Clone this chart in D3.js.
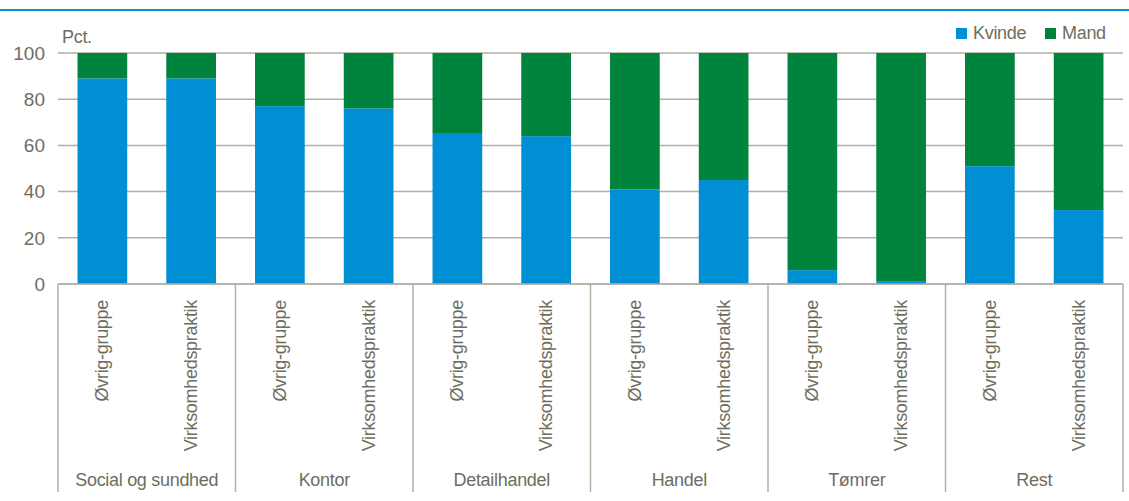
<!DOCTYPE html>
<html><head><meta charset="utf-8">
<script src="https://cdn.jsdelivr.net/npm/d3@7"></script>
<style>body{margin:0;background:#fff}svg{display:block}text{font-family:"Liberation Sans",Arial,sans-serif;fill:#6e6e60;letter-spacing:-0.3px}</style>
</head><body><svg id="c" width="1129" height="501"></svg>
<script>
const groups = ["Social og sundhed","Kontor","Detailhandel","Handel","Tømrer","Rest"];
const subs = ["Øvrig-gruppe","Virksomhedspraktik"];
const kvinde = [[89,89],[77,76],[65,64],[41,45],[6,1],[51,32]];
const mand = kvinde.map(g => g.map(v => 100 - v));
const yTicks = [0,20,40,60,80,100];
const series = ["Kvinde","Mand"];
const colors = ["#008fd5","#00843d"];

const svg = d3.select("#c");
const L = 58, R = 1123, T = 53, B = 284, bottom = 492;
svg.append("rect").attr("x",0).attr("y",9).attr("width",1129).attr("height",2).attr("fill","#0090d8");

const x0 = d3.scaleBand().domain(groups).range([L,R]).padding(0);
const x1 = d3.scaleBand().domain(subs).range([0,x0.bandwidth()]).paddingInner(0.44).paddingOuter(0.22);
const y = d3.scaleLinear().domain([0,100]).range([B,T]);

// gridlines
svg.append("g").selectAll("line").data(yTicks).join("line")
  .attr("x1",L).attr("x2",R).attr("y1",d=>y(d)).attr("y2",d=>y(d))
  .attr("stroke","#b2b0a2").attr("stroke-width",1.5);
// y tick labels
svg.append("g").selectAll("text").data(yTicks).join("text")
  .attr("x",45).attr("y",d=>y(d)).attr("dy","0.36em").attr("text-anchor","end")
  .attr("font-size",19).style("letter-spacing","0px").text(d=>d);
svg.append("text").attr("x",62).attr("y",43).attr("font-size",18).text("Pct.");

// bars
const data = [];
groups.forEach((g,gi)=>subs.forEach((s,si)=>{
  data.push({g,s,k:kvinde[gi][si],m:mand[gi][si]});
}));
const bars = svg.append("g");
bars.selectAll("rect.k").data(data).join("rect").attr("class","k")
  .attr("x",d=>x0(d.g)+x1(d.s)).attr("width",x1.bandwidth())
  .attr("y",d=>y(d.k)).attr("height",d=>y(0)-y(d.k)).attr("fill",colors[0]);
bars.selectAll("rect.m").data(data).join("rect").attr("class","m")
  .attr("x",d=>x0(d.g)+x1(d.s)).attr("width",x1.bandwidth())
  .attr("y",d=>y(d.k+d.m)).attr("height",d=>y(d.k)-y(d.k+d.m)).attr("fill",colors[1]);
// base line
svg.append("line").attr("x1",L).attr("x2",R).attr("y1",B).attr("y2",B).attr("stroke","#b2b0a2").attr("stroke-width",1.5);

// separators
const seps = groups.map(g=>x0(g)).concat([R]);
svg.append("g").selectAll("line").data(seps).join("line")
  .attr("x1",d=>d).attr("x2",d=>d).attr("y1",B).attr("y2",bottom)
  .attr("stroke","#b2b0a2").attr("stroke-width",1.5);

// sub labels
svg.append("g").selectAll("text").data(data).join("text")
  .attr("transform",d=>`translate(${x0(d.g)+x1(d.s)+x1.bandwidth()/2+6},300) rotate(-90)`)
  .attr("text-anchor","end").attr("font-size",18).text(d=>d.s);
// group labels
svg.append("g").selectAll("text").data(groups).join("text")
  .attr("x",d=>x0(d)+x0.bandwidth()/2).attr("y",486).attr("text-anchor","middle")
  .attr("font-size",18).text(d=>d);

// legend
const lg = svg.append("g");
const lx = [956,1045];
series.forEach((s,i)=>{
  lg.append("rect").attr("x",lx[i]).attr("y",28).attr("width",11).attr("height",11).attr("fill",colors[i]);
  lg.append("text").attr("x",lx[i]+17).attr("y",39).attr("font-size",18).text(s);
});
</script></body></html>
